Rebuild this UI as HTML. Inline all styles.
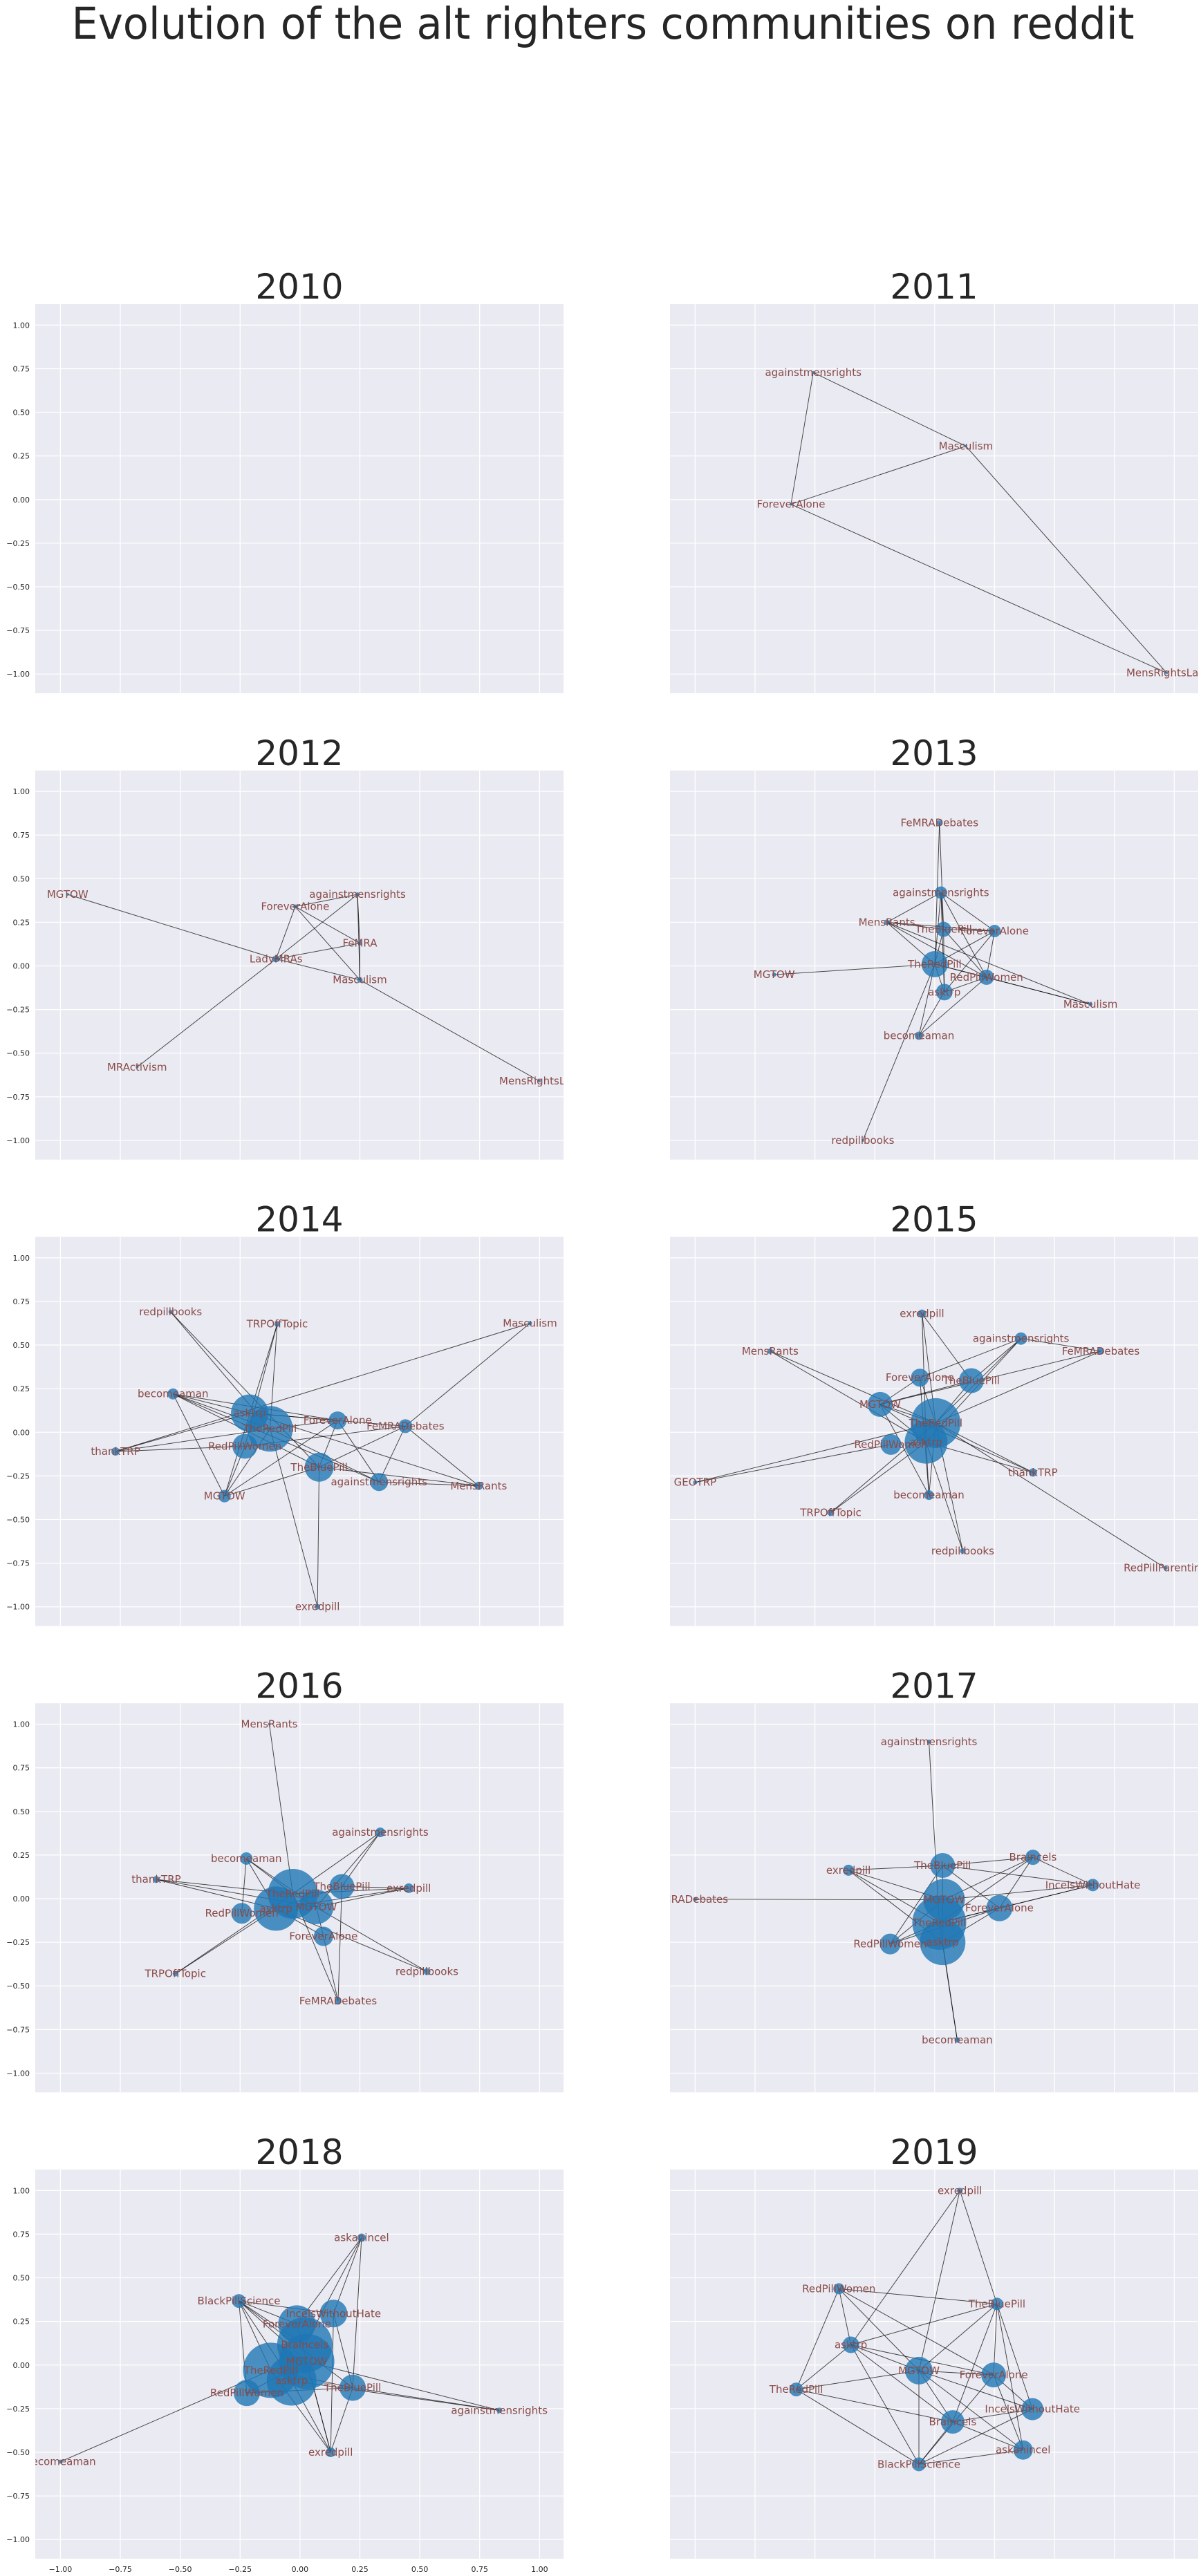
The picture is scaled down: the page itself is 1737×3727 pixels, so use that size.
<!DOCTYPE html>
<html><head><meta charset="utf-8"><style>
html,body{margin:0;padding:0;background:#fff;}
svg{display:block;font-family:"DejaVu Sans","Liberation Sans",sans-serif;}
</style></head><body>
<svg id="fig" width="1737" height="3727" xmlns="http://www.w3.org/2000/svg">
<text x="872" y="56" text-anchor="middle" font-size="63" fill="#262626" textLength="1537" lengthAdjust="spacingAndGlyphs">Evolution of the alt righters communities on reddit</text>
</svg>
<script>
// ---- data ----
const years = [2010,2011,2012,2013,2014,2015,2016,2017,2018,2019];
const tickVals = [-1,-0.75,-0.5,-0.25,0,0.25,0.5,0.75,1];
const tickLabels = ["\u22121.00","\u22120.75","\u22120.50","\u22120.25","0.00","0.25","0.50","0.75","1.00"];

const names2010 = [];
const x2010 = [];
const y2010 = [];
const r2010 = [];
const edges2010 = [];

const names2011 = ["againstmensrights","Masculism","ForeverAlone","MensRightsLaw"];
const x2011 = [-0.507,0.13,-0.60,0.968];
const y2011 = [0.728,0.306,-0.027,-0.993];
const r2011 = [2,2,2,2];
const edges2011 = [["againstmensrights","Masculism"],["againstmensrights","ForeverAlone"],["Masculism","ForeverAlone"],["ForeverAlone","MensRightsLaw"],["Masculism","MensRightsLaw"]];

const names2012 = ["MGTOW","againstmensrights","ForeverAlone","FeMRA","LadyMRAs","Masculism","MRActivism","MensRightsLaw"];
const x2012 = [-0.97,0.24,-0.02,0.25,-0.10,0.25,-0.68,1.0];
const y2012 = [0.41,0.41,0.34,0.13,0.04,-0.08,-0.58,-0.66];
const r2012 = [2,3,3,3,5,4,2,2];
const edges2012 = [["MGTOW","LadyMRAs"],["ForeverAlone","againstmensrights"],["ForeverAlone","LadyMRAs"],["ForeverAlone","FeMRA"],["ForeverAlone","Masculism"],["againstmensrights","LadyMRAs"],["againstmensrights","Masculism"],["againstmensrights","FeMRA"],["LadyMRAs","FeMRA"],["LadyMRAs","Masculism"],["LadyMRAs","MRActivism"],["Masculism","MensRightsLaw"],["FeMRA","Masculism"]];

const names2013 = ["FeMRADebates","againstmensrights","MensRants","TheBluePill","ForeverAlone","TheRedPill","MGTOW","RedPillWomen","asktrp","Masculism","becomeaman","redpillbooks"];
const x2013 = [0.02,0.026,-0.2,0.037,0.25,0,-0.67,0.216,0.04,0.65,-0.066,-0.3];
const y2013 = [0.82,0.42,0.25,0.21,0.2,0.01,-0.05,-0.065,-0.15,-0.22,-0.40,-1.0];
const r2013 = [4,9,4,11,9,19,3,11,12,3,6,2];
const edges2013 = [["FeMRADebates","TheRedPill"],["FeMRADebates","TheBluePill"],["againstmensrights","MensRants"],["againstmensrights","TheRedPill"],["againstmensrights","TheBluePill"],["againstmensrights","ForeverAlone"],["againstmensrights","RedPillWomen"],["againstmensrights","asktrp"],["MensRants","TheBluePill"],["MensRants","ForeverAlone"],["MensRants","TheRedPill"],["MensRants","RedPillWomen"],["MensRants","Masculism"],["TheBluePill","ForeverAlone"],["TheBluePill","RedPillWomen"],["TheBluePill","TheRedPill"],["TheBluePill","asktrp"],["ForeverAlone","TheRedPill"],["ForeverAlone","RedPillWomen"],["ForeverAlone","asktrp"],["TheRedPill","MGTOW"],["TheRedPill","RedPillWomen"],["TheRedPill","asktrp"],["TheRedPill","becomeaman"],["TheRedPill","redpillbooks"],["TheRedPill","Masculism"],["RedPillWomen","asktrp"],["RedPillWomen","becomeaman"],["RedPillWomen","Masculism"],["asktrp","becomeaman"]];

const names2014 = ["redpillbooks","TRPOffTopic","Masculism","becomeaman","asktrp","TheRedPill","ForeverAlone","FeMRADebates","RedPillWomen","thankTRP","TheBluePill","againstmensrights","MensRants","MGTOW","exredpill"];
const x2014 = [-0.54,-0.095,0.96,-0.53,-0.21,-0.125,0.157,0.44,-0.23,-0.77,0.08,0.33,0.746,-0.315,0.073];
const y2014 = [0.69,0.62,0.625,0.22,0.11,0.02,0.068,0.035,-0.08,-0.11,-0.2,-0.285,-0.307,-0.366,-1.0];
const r2014 = [3,4,3,8,27,33,13,10,18,6,21,13,6,9,4];
const edges2014 = [["redpillbooks","TheBluePill"],["redpillbooks","TheRedPill"],["TRPOffTopic","TheRedPill"],["TRPOffTopic","RedPillWomen"],["TRPOffTopic","MGTOW"],["Masculism","FeMRADebates"],["Masculism","thankTRP"],["becomeaman","asktrp"],["becomeaman","TheRedPill"],["becomeaman","TheBluePill"],["becomeaman","ForeverAlone"],["becomeaman","againstmensrights"],["becomeaman","MGTOW"],["asktrp","ForeverAlone"],["asktrp","FeMRADebates"],["asktrp","thankTRP"],["asktrp","MensRants"],["TheRedPill","ForeverAlone"],["TheRedPill","exredpill"],["TheRedPill","againstmensrights"],["TheRedPill","MGTOW"],["RedPillWomen","thankTRP"],["RedPillWomen","FeMRADebates"],["ForeverAlone","MGTOW"],["ForeverAlone","TheBluePill"],["ForeverAlone","againstmensrights"],["FeMRADebates","TheBluePill"],["FeMRADebates","MensRants"],["FeMRADebates","againstmensrights"],["TheBluePill","MGTOW"],["TheBluePill","MensRants"],["TheBluePill","exredpill"],["againstmensrights","MensRants"],["RedPillWomen","MGTOW"],["thankTRP","TheRedPill"]];

const names2015 = ["exredpill","againstmensrights","MensRants","FeMRADebates","ForeverAlone","TheBluePill","MGTOW","TheRedPill","asktrp","RedPillWomen","thankTRP","GEOTRP","becomeaman","TRPOffTopic","redpillbooks","RedPillParenting"];
const x2015 = [-0.053,0.36,-0.687,0.693,-0.062,0.153,-0.228,0.004,-0.036,-0.183,0.41,-1.0,-0.024,-0.434,0.117,0.963];
const y2015 = [0.68,0.537,0.465,0.465,0.313,0.296,0.16,0.053,-0.057,-0.07,-0.23,-0.287,-0.36,-0.46,-0.68,-0.778];
const r2015 = [6,9,4,5,13,18,18,36,31,15,6,3,7,5,4,3];
const edges2015 = [["exredpill","TheRedPill"],["exredpill","asktrp"],["exredpill","TheBluePill"],["againstmensrights","ForeverAlone"],["againstmensrights","TheRedPill"],["againstmensrights","asktrp"],["againstmensrights","FeMRADebates"],["againstmensrights","TheBluePill"],["MensRants","TheRedPill"],["MensRants","asktrp"],["FeMRADebates","MGTOW"],["FeMRADebates","TheRedPill"],["ForeverAlone","MGTOW"],["ForeverAlone","becomeaman"],["ForeverAlone","TheRedPill"],["TheBluePill","MGTOW"],["TheBluePill","TheRedPill"],["MGTOW","TheRedPill"],["MGTOW","becomeaman"],["MGTOW","thankTRP"],["TheRedPill","GEOTRP"],["RedPillWomen","GEOTRP"],["TheRedPill","TRPOffTopic"],["asktrp","TRPOffTopic"],["TheRedPill","thankTRP"],["asktrp","thankTRP"],["TheRedPill","RedPillParenting"],["asktrp","redpillbooks"],["TheRedPill","redpillbooks"],["TheRedPill","becomeaman"],["asktrp","becomeaman"],["MGTOW","asktrp"]];

const names2016 = ["MensRants","againstmensrights","becomeaman","thankTRP","TheBluePill","exredpill","TheRedPill","MGTOW","asktrp","RedPillWomen","ForeverAlone","TRPOffTopic","redpillbooks","FeMRADebates"];
const x2016 = [-0.128,0.335,-0.224,-0.6,0.175,0.454,-0.03,0.068,-0.10,-0.243,0.098,-0.52,0.53,0.159];
const y2016 = [1.0,0.38,0.23,0.11,0.07,0.06,0.028,-0.047,-0.057,-0.084,-0.216,-0.43,-0.418,-0.587];
const r2016 = [2,7,9,5,18,7,36,25,32,15,14,4,5,5];
const edges2016 = [["MensRants","TheRedPill"],["againstmensrights","TheRedPill"],["againstmensrights","TheBluePill"],["againstmensrights","MGTOW"],["becomeaman","RedPillWomen"],["becomeaman","TheRedPill"],["becomeaman","MGTOW"],["becomeaman","asktrp"],["thankTRP","TheRedPill"],["thankTRP","asktrp"],["thankTRP","MGTOW"],["TheBluePill","asktrp"],["TheBluePill","exredpill"],["TheBluePill","FeMRADebates"],["exredpill","TheRedPill"],["exredpill","asktrp"],["exredpill","MGTOW"],["TRPOffTopic","TheRedPill"],["TRPOffTopic","asktrp"],["TheRedPill","redpillbooks"],["asktrp","redpillbooks"],["TheRedPill","FeMRADebates"],["ForeverAlone","FeMRADebates"],["asktrp","ForeverAlone"],["MGTOW","ForeverAlone"]];

const names2017 = ["againstmensrights","Braincels","TheBluePill","exredpill","IncelsWithoutHate","MGTOW","MRADebates","ForeverAlone","TheRedPill","asktrp","RedPillWomen","becomeaman"];
const x2017 = [-0.024,0.41,0.033,-0.36,0.66,0.039,-1.0,0.27,0.019,0.033,-0.186,0.094];
const y2017 = [0.90,0.237,0.19,0.163,0.078,-0.006,-0.003,-0.054,-0.138,-0.25,-0.26,-0.81];
const r2017 = [3,11,18,8,9,30,3,19,39,33,15,4];
const edges2017 = [["againstmensrights","TheRedPill"],["Braincels","TheBluePill"],["Braincels","IncelsWithoutHate"],["Braincels","ForeverAlone"],["Braincels","MGTOW"],["Braincels","TheRedPill"],["exredpill","TheBluePill"],["exredpill","MGTOW"],["exredpill","TheRedPill"],["exredpill","asktrp"],["TheBluePill","IncelsWithoutHate"],["TheBluePill","ForeverAlone"],["TheBluePill","RedPillWomen"],["TheBluePill","asktrp"],["MRADebates","MGTOW"],["IncelsWithoutHate","MGTOW"],["IncelsWithoutHate","ForeverAlone"],["IncelsWithoutHate","TheRedPill"],["ForeverAlone","TheRedPill"],["ForeverAlone","asktrp"],["ForeverAlone","RedPillWomen"],["RedPillWomen","TheRedPill"],["RedPillWomen","MGTOW"],["asktrp","becomeaman"],["TheRedPill","becomeaman"]];

const names2018 = ["askanincel","BlackPillScience","IncelsWithoutHate","ForeverAlone","Braincels","MGTOW","TheRedPill","asktrp","TheBluePill","RedPillWomen","againstmensrights","exredpill","becomeaman"];
const x2018 = [0.257,-0.255,0.14,-0.013,0.02,0.028,-0.122,-0.035,0.22,-0.222,0.832,0.128,-1.0];
const y2018 = [0.73,0.367,0.295,0.235,0.115,0.02,-0.03,-0.09,-0.13,-0.16,-0.26,-0.5,-0.554];
const r2018 = [6,10,20,27,40,40,40,36,19,19,4,7,3];
const edges2018 = [["askanincel","Braincels"],["askanincel","ForeverAlone"],["askanincel","IncelsWithoutHate"],["askanincel","TheBluePill"],["BlackPillScience","IncelsWithoutHate"],["BlackPillScience","ForeverAlone"],["BlackPillScience","Braincels"],["BlackPillScience","MGTOW"],["BlackPillScience","TheRedPill"],["BlackPillScience","asktrp"],["BlackPillScience","RedPillWomen"],["BlackPillScience","TheBluePill"],["ForeverAlone","exredpill"],["IncelsWithoutHate","TheBluePill"],["IncelsWithoutHate","exredpill"],["MGTOW","againstmensrights"],["asktrp","againstmensrights"],["TheBluePill","againstmensrights"],["RedPillWomen","TheBluePill"],["becomeaman","TheRedPill"],["exredpill","TheRedPill"],["exredpill","asktrp"],["exredpill","MGTOW"],["exredpill","TheBluePill"],["TheRedPill","TheBluePill"],["RedPillWomen","MGTOW"]];

const names2019 = ["exredpill","RedPillWomen","TheBluePill","asktrp","MGTOW","ForeverAlone","TheRedPill","IncelsWithoutHate","Braincels","askanincel","BlackPillScience"];
const x2019 = [0.105,-0.40,0.26,-0.35,-0.066,0.246,-0.578,0.408,0.075,0.369,-0.066];
const y2019 = [1.0,0.437,0.35,0.116,-0.032,-0.057,-0.14,-0.253,-0.326,-0.487,-0.569];
const r2019 = [4,8,9,12,20,18,10,16,17,14,10];
const edges2019 = [["exredpill","asktrp"],["exredpill","MGTOW"],["exredpill","TheBluePill"],["RedPillWomen","TheBluePill"],["RedPillWomen","asktrp"],["RedPillWomen","TheRedPill"],["RedPillWomen","MGTOW"],["RedPillWomen","ForeverAlone"],["TheBluePill","asktrp"],["TheBluePill","MGTOW"],["TheBluePill","ForeverAlone"],["TheBluePill","Braincels"],["TheBluePill","IncelsWithoutHate"],["TheBluePill","askanincel"],["asktrp","TheRedPill"],["asktrp","MGTOW"],["asktrp","ForeverAlone"],["asktrp","Braincels"],["asktrp","BlackPillScience"],["MGTOW","TheRedPill"],["MGTOW","ForeverAlone"],["MGTOW","Braincels"],["MGTOW","IncelsWithoutHate"],["MGTOW","askanincel"],["MGTOW","BlackPillScience"],["ForeverAlone","BlackPillScience"],["ForeverAlone","askanincel"],["ForeverAlone","IncelsWithoutHate"],["TheRedPill","Braincels"],["TheRedPill","BlackPillScience"],["IncelsWithoutHate","Braincels"],["IncelsWithoutHate","BlackPillScience"],["Braincels","askanincel"],["Braincels","BlackPillScience"],["askanincel","BlackPillScience"]];

const graphData = {
 2010:[names2010,x2010,y2010,r2010,edges2010],2011:[names2011,x2011,y2011,r2011,edges2011],
 2012:[names2012,x2012,y2012,r2012,edges2012],2013:[names2013,x2013,y2013,r2013,edges2013],
 2014:[names2014,x2014,y2014,r2014,edges2014],2015:[names2015,x2015,y2015,r2015,edges2015],
 2016:[names2016,x2016,y2016,r2016,edges2016],2017:[names2017,x2017,y2017,r2017,edges2017],
 2018:[names2018,x2018,y2018,r2018,edges2018],2019:[names2019,x2019,y2019,r2019,edges2019]};

// ---- layout ----
const NS = "http://www.w3.org/2000/svg";
const svg = document.getElementById('fig');
const colX = [51, 969];
const axW = 764, axH = 563;
const rowTop0 = 440, rowStep = 674.75;
const XMIN = -1.105, XMAX = 1.1, YMIN = -1.11, YMAX = 1.12;

function mk(tag, attrs, parent){
  const e = document.createElementNS(NS, tag);
  for (const k in attrs) e.setAttribute(k, attrs[k]);
  (parent||svg).appendChild(e);
  return e;
}

years.forEach(function(yr, i){
  const col = i % 2, row = Math.floor(i/2);
  const x0 = colX[col], y0 = rowTop0 + row*rowStep;
  const sx = v => x0 + (v - XMIN) / (XMAX - XMIN) * axW;
  const sy = v => y0 + (YMAX - v) / (YMAX - YMIN) * axH;

  const g = mk('g', {});
  
  

  const cp = mk('clipPath', {id:'clip'+yr}, g);
  mk('rect', {x:x0, y:y0, width:axW, height:axH}, cp);

  const bg = mk('rect', {x:x0, y:y0, width:axW, height:axH, fill:'#EAEAF2'}, g);
  
  

  tickVals.forEach(function(t, k){
    const gx = mk('line', {x1:sx(t), x2:sx(t), y1:y0, y2:y0+axH, stroke:'#fff', 'stroke-width':1.3}, g);
    
    
    const gy = mk('line', {x1:x0, x2:x0+axW, y1:sy(t), y2:sy(t), stroke:'#fff', 'stroke-width':1.3}, g);
    
    
    if (col === 0) {
      const tl = mk('text', {x:x0-8, y:sy(t)+4, 'text-anchor':'end', 'font-size':11, fill:'#262626'}, g);
      tl.textContent = tickLabels[k];
      
      
    }
    if (yr === 2018) {
      const xl = mk('text', {x:sx(t), y:y0+axH+19, 'text-anchor':'middle', 'font-size':11, fill:'#262626'}, g);
      xl.textContent = tickLabels[k];
      
      
    }
  });

  const title = mk('text', {x:x0+axW/2, y:y0-8, 'text-anchor':'middle', 'font-size':50, fill:'#262626'}, g);
  title.textContent = String(yr);
  
  

  const d = graphData[yr];
  const names = d[0], xs = d[1], ys = d[2], rs = d[3], edges = d[4];
  const idx = {};
  names.forEach((n, j) => idx[n] = j);

  const inner = mk('g', {'clip-path':'url(#clip'+yr+')'}, g);
  edges.forEach(function(e){
    const a = idx[e[0]], b = idx[e[1]];
    const ln = mk('line', {x1:sx(xs[a]), y1:sy(ys[a]), x2:sx(xs[b]), y2:sy(ys[b]), stroke:'#000', 'stroke-opacity':0.7, 'stroke-width':1}, inner);
    
    
  });
  names.forEach(function(n, j){
    const c = mk('circle', {cx:sx(xs[j]), cy:sy(ys[j]), r:rs[j], fill:'#1f77b4', 'fill-opacity':0.8}, inner);
    
    
  });
  names.forEach(function(n, j){
    const t = mk('text', {x:sx(xs[j]), y:sy(ys[j])+5, 'text-anchor':'middle', 'font-size':15, fill:'#8a4a47'}, inner);
    t.textContent = n;
    
    
  });
});
</script>
</body></html>
